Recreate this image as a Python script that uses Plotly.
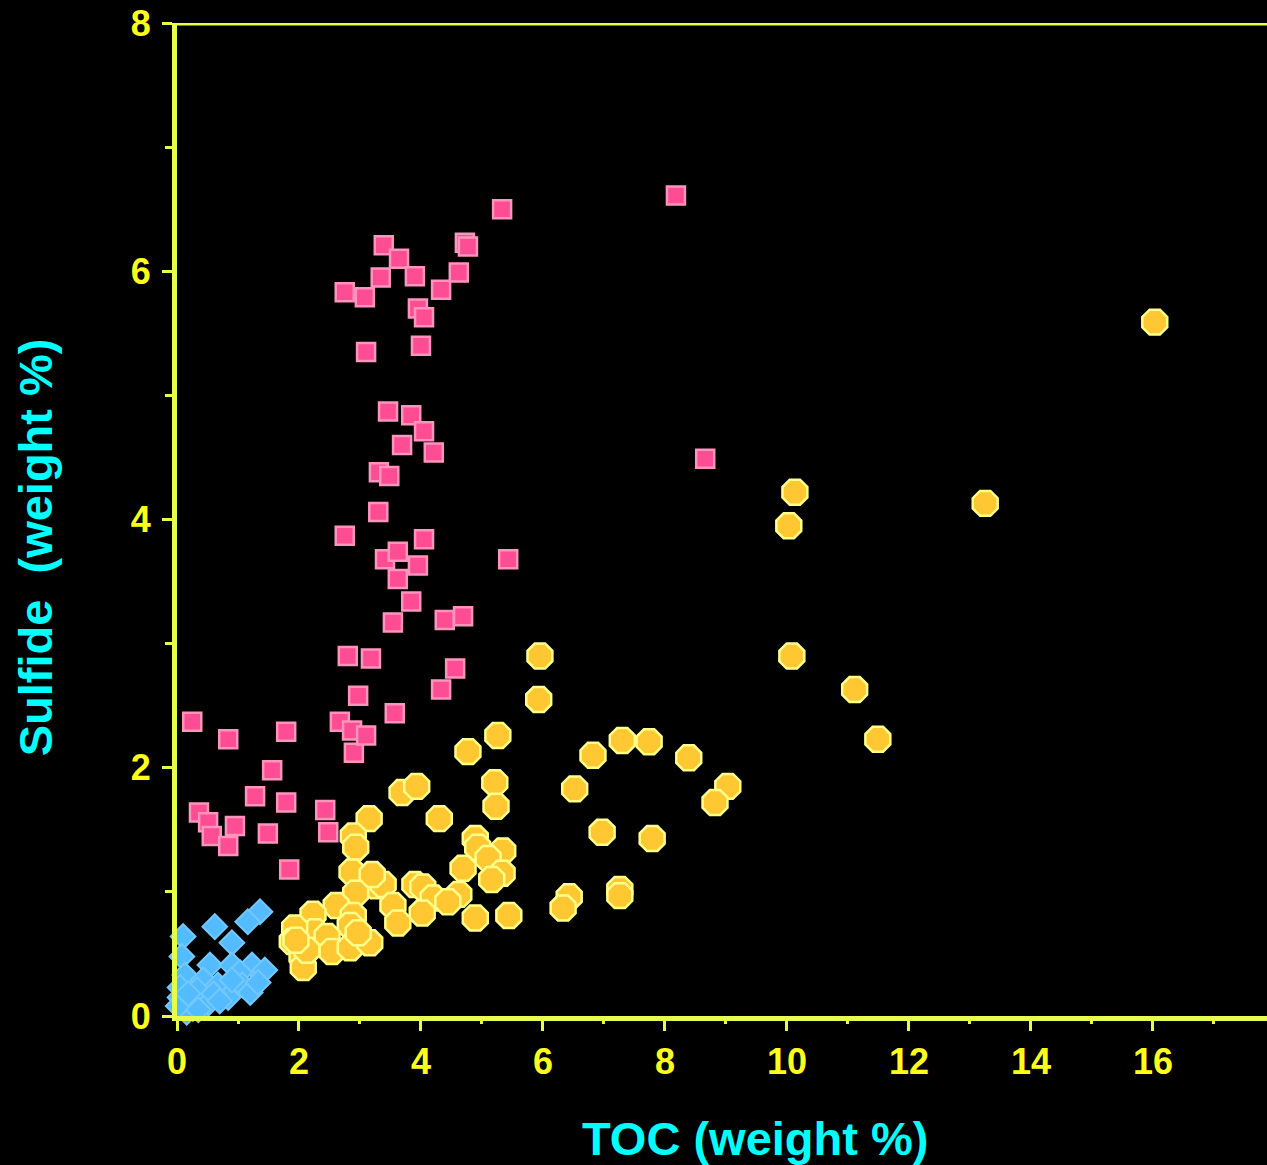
import plotly.graph_objects as go

# ---------------- data ----------------
pink_x = [0.25, 0.36, 0.51, 0.57, 0.84, 0.84, 0.95, 1.28, 1.49, 1.56, 1.79, 1.79, 1.84,
          2.43, 2.48, 2.67, 2.75, 2.75, 2.80, 2.87, 2.90, 2.97, 3.08, 3.10, 3.10, 3.18,
          3.30, 3.31, 3.34, 3.39, 3.41, 3.46, 3.48, 3.54, 3.57, 3.64, 3.62, 3.62, 3.69,
          3.84, 3.84, 3.90, 3.95, 3.95, 4.00, 4.05, 4.05, 4.05, 4.21, 4.33, 4.33, 4.39,
          4.56, 4.62, 4.69, 4.72, 4.77, 5.33, 5.43, 8.18, 8.66]
pink_y = [2.37, 1.64, 1.56, 1.45, 2.23, 1.37, 1.53, 1.77, 1.47, 1.98, 2.29, 1.72, 1.18,
          1.66, 1.48, 2.37, 3.87, 5.83, 2.90, 2.30, 2.12, 2.58, 5.79, 5.35, 2.26, 2.88,
          4.06, 4.38, 5.95, 6.21, 3.68, 4.87, 4.35, 3.17, 2.44, 6.10, 3.74, 3.52, 4.60,
          3.34, 4.84, 5.96, 5.70, 3.63, 5.40, 5.63, 3.84, 4.71, 4.54, 5.85, 2.63, 3.19,
          2.80, 5.99, 3.22, 6.23, 6.20, 6.50, 3.68, 6.61, 4.49]

yellow_x = [3.69, 3.93, 5.21, 5.23, 4.30, 3.15, 2.89, 2.93, 4.89, 4.93, 5.34, 5.10, 4.69,
            5.33, 5.16, 2.87, 3.26, 3.38, 3.20, 3.90, 4.03, 4.20, 4.62, 4.44, 4.02, 3.54,
            3.62, 2.93, 2.61, 2.89, 2.84, 2.23, 2.26, 1.93, 1.89, 2.05, 2.46, 2.54, 2.84,
            3.16, 2.97, 4.89, 5.44, 2.07, 2.13, 1.95,
            16.03, 13.25, 10.13, 10.03, 10.08, 11.11, 11.49, 5.95, 5.93, 5.26, 4.77, 6.82,
            7.30, 7.74, 8.39, 9.03, 8.82, 6.52, 6.97, 7.79, 7.26, 7.26, 6.43, 6.33]
yellow_y = [1.80, 1.85, 1.88, 1.69, 1.59, 1.59, 1.45, 1.36, 1.43, 1.36, 1.33, 1.27, 1.19,
            1.15, 1.10, 1.16, 1.05, 1.06, 1.14, 1.06, 1.04, 0.95, 0.98, 0.92, 0.83, 0.89,
            0.75, 0.99, 0.89, 0.81, 0.73, 0.82, 0.68, 0.71, 0.60, 0.48, 0.64, 0.52, 0.55,
            0.59, 0.67, 0.79, 0.81, 0.39, 0.53, 0.61,
            5.59, 4.13, 4.22, 3.95, 2.90, 2.63, 2.23, 2.90, 2.55, 2.26, 2.13, 2.10,
            2.22, 2.21, 2.08, 1.85, 1.72, 1.83, 1.48, 1.43, 1.02, 0.97, 0.96, 0.87]

blue_x = [1.36, 1.16, 0.62, 0.10, 0.90, 0.08, 0.54, 0.90, 1.23, 1.44, 1.03, 0.13, 0.43,
          0.67, 1.07, 1.20, 0.84, 0.51, 0.25, 0.05, 0.05, 0.10, 0.33, 0.26, 0.16, 0.90,
          1.33, 0.02, 0.18, 0.60, 0.35, 0.70]
blue_y = [0.84, 0.76, 0.72, 0.64, 0.59, 0.48, 0.41, 0.41, 0.41, 0.37, 0.35, 0.33, 0.29,
          0.25, 0.25, 0.19, 0.15, 0.10, 0.09, 0.15, 0.23, 0.13, 0.21, 0.06, 0.03, 0.29,
          0.27, 0.08, 0.18, 0.18, 0.05, 0.12]

x_major = [0, 2, 4, 6, 8, 10, 12, 14, 16]
y_major = [0, 2, 4, 6, 8]
x_title = "TOC (weight %)"
y_title = "Sulfide\u00a0\u00a0(weight %)"

AXIS = "#E6FF4D"
TICKTXT = "#FFFF1A"
FONT = "Liberation Sans, Arial, sans-serif"
X_MAX = 17.87

fig = go.Figure()
fig.add_trace(go.Scatter(
    x=pink_x, y=pink_y, mode="markers", cliponaxis=False,
    marker=dict(symbol="square", size=18, color="#FF4D94",
                line=dict(color="#FF94BC", width=2.5))))
fig.add_trace(go.Scatter(
    x=yellow_x, y=yellow_y, mode="markers", cliponaxis=False,
    marker=dict(symbol="octagon", size=27, color="#FFC833",
                line=dict(color="#FFFF8A", width=2.5))))
fig.add_trace(go.Scatter(
    x=blue_x, y=blue_y, mode="markers", cliponaxis=False,
    marker=dict(symbol="diamond", size=19, color="#55BBFF",
                line=dict(color="#72C8FF", width=2))))

tickfont = dict(family=FONT, size=36, color=TICKTXT, weight="bold")

fig.update_layout(
    width=1267, height=1165,
    paper_bgcolor="black", plot_bgcolor="black",
    margin=dict(l=177, r=0, t=23, b=149),
    showlegend=False,
    xaxis=dict(range=[0, X_MAX], showline=True, linecolor=AXIS, linewidth=5,
               showgrid=False, zeroline=False, tickvals=x_major,
               ticks="outside", ticklen=10, tickwidth=3, tickcolor=AXIS,
               tickfont=tickfont, ticklabelstandoff=0,
               minor=dict(dtick=1, tick0=0, ticks="outside", ticklen=3,
                          tickwidth=2.5, tickcolor=AXIS, showgrid=False)),
    yaxis=dict(range=[0, 8], showline=True, linecolor=AXIS, linewidth=5,
               showgrid=False, zeroline=False, tickvals=y_major,
               ticks="outside", ticklen=10, tickwidth=3, tickcolor=AXIS,
               tickfont=tickfont, ticklabelstandoff=4,
               minor=dict(dtick=1, tick0=0, ticks="outside", ticklen=7,
                          tickwidth=2.5, tickcolor=AXIS, showgrid=False)),
    xaxis2=dict(range=[0, X_MAX], overlaying="x", anchor="y", side="bottom",
                showline=False, showgrid=False, zeroline=False, tickvals=x_major,
                showticklabels=False, ticks="inside", ticklen=11, tickwidth=3,
                tickcolor=AXIS,
                minor=dict(dtick=1, tick0=0, ticks="inside", ticklen=9,
                           tickwidth=2.5, tickcolor=AXIS, showgrid=False)),
    yaxis2=dict(range=[0, 8], overlaying="y", anchor="x", side="left",
                showline=False, showgrid=False, zeroline=False, tickvals=y_major,
                showticklabels=False, ticks="inside", ticklen=11, tickwidth=3,
                tickcolor=AXIS,
                minor=dict(dtick=1, tick0=0, ticks="inside", ticklen=6,
                           tickwidth=2.5, tickcolor=AXIS, showgrid=False)),
    shapes=[dict(type="line", xref="paper", yref="y", x0=0, x1=1, y0=8, y1=8,
                 line=dict(color=AXIS, width=5), layer="above")],
    annotations=[
        dict(text=x_title, xref="paper", yref="paper", x=0.530, y=0, yshift=-122,
             xanchor="center", yanchor="middle", showarrow=False,
             font=dict(family=FONT, size=47, color="#00FFFF", weight="bold")),
        dict(text=y_title, xref="paper", yref="paper", x=0, xshift=-142, y=0.472,
             xanchor="center", yanchor="middle", showarrow=False, textangle=-90,
             font=dict(family=FONT, size=47, color="#00FFFF", weight="bold")),
    ],
)

fig.write_html("out.html")
